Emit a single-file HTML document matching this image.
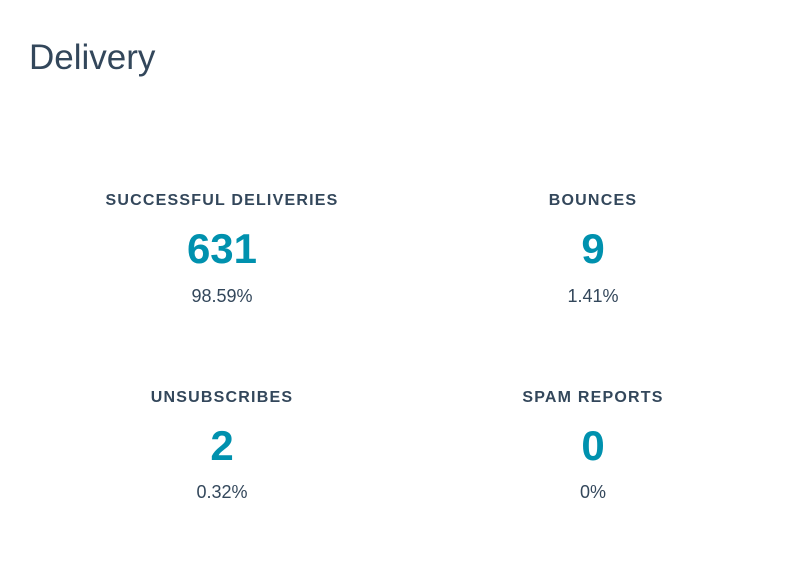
<!DOCTYPE html>
<html><head><meta charset="utf-8"><style>
body{margin:0;width:810px;height:572px;background:#fff;font-family:"Liberation Sans",sans-serif;color:#33475b;position:relative;overflow:hidden}
h1{position:absolute;left:29px;top:36px;margin:0;font-weight:normal;font-size:35px;line-height:44px;color:#33475b}
.stat{position:absolute;width:340px;text-align:center}
.lbl{position:absolute;left:0;right:0;font-weight:bold;font-size:16px;letter-spacing:1.2px;line-height:20px}
.num{position:absolute;left:0;right:0;font-weight:bold;font-size:42px;color:#0091ae;line-height:48px}
.pct{position:absolute;left:0;right:0;font-size:18px;line-height:22px}
</style></head><body>
<h1>Delivery</h1>
<div class="stat" style="left:52px;top:0">
 <div class="lbl" style="top:191px">SUCCESSFUL DELIVERIES</div>
 <div class="num" style="top:225px">631</div>
 <div class="pct" style="top:285px">98.59%</div>
</div>
<div class="stat" style="left:423px;top:0">
 <div class="lbl" style="top:191px">BOUNCES</div>
 <div class="num" style="top:225px">9</div>
 <div class="pct" style="top:285px">1.41%</div>
</div>
<div class="stat" style="left:52px;top:197px">
 <div class="lbl" style="top:191px">UNSUBSCRIBES</div>
 <div class="num" style="top:225px">2</div>
 <div class="pct" style="top:284px">0.32%</div>
</div>
<div class="stat" style="left:423px;top:197px">
 <div class="lbl" style="top:191px">SPAM REPORTS</div>
 <div class="num" style="top:225px">0</div>
 <div class="pct" style="top:284px">0%</div>
</div>
</body></html>
